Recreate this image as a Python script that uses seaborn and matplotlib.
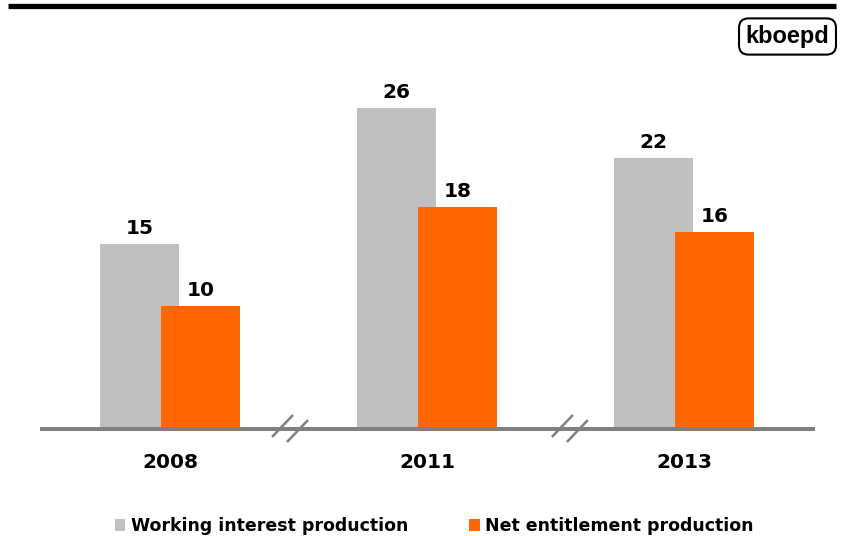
import numpy as np
import pandas as pd
import matplotlib
matplotlib.use("Agg")
import matplotlib.pyplot as plt
from matplotlib.lines import Line2D
import matplotlib.transforms as mtransforms
import seaborn as sns

# Production by year (kboepd)
years = ["2008", "2011", "2013"]
working_interest = [15, 26, 22]
net_entitlement = [10, 18, 16]
series_names = ["Working interest production", "Net entitlement production"]
unit_label = "kboepd"

GREY = "#C0C0C0"
ORANGE = "#FF6600"
AXIS_GREY = "#808080"
INK = "#000000"

sns.set_theme(style="white")
plt.rcParams["font.family"] = ["DejaVu Sans"]
plt.rcParams["text.color"] = INK

W, H = 842, 536
fig = plt.figure(figsize=(W / 100, H / 100), dpi=100)

# axes placed in pixel terms: baseline at y=429 from top, spanning x 40..815
ax_left, ax_right = 40, 815
ax_base, ax_top = 429, 90
ax = fig.add_axes([ax_left / W, (H - ax_base) / H,
                   (ax_right - ax_left) / W, (ax_base - ax_top) / H])

group_px = 257.0          # distance between year groups
bar_w = 79 / group_px     # bar width in group units
shift = 30.5 / group_px   # each series is nudged off the group centre (bars overlap)

idx = np.arange(len(years))
df_wi = pd.DataFrame({"pos": idx - shift, "value": working_interest})
df_ne = pd.DataFrame({"pos": idx + shift, "value": net_entitlement})

sns.barplot(data=df_wi, x="pos", y="value", native_scale=True, width=bar_w,
            color=GREY, saturation=1, linewidth=0, errorbar=None,
            label=series_names[0], ax=ax)
sns.barplot(data=df_ne, x="pos", y="value", native_scale=True, width=bar_w,
            color=ORANGE, saturation=1, linewidth=0, errorbar=None,
            label=series_names[1], ax=ax)

px_per_unit = 12.33
ax.set_xlim((ax_left - 170) / group_px, (ax_right - 170) / group_px)
ax.set_ylim(0, (ax_base - ax_top) / px_per_unit)

# value labels above each bar
for df in (df_wi, df_ne):
    for x, v in zip(df["pos"], df["value"]):
        ax.annotate(f"{v}", (x, v), xytext=(0, 7.2), textcoords="offset points",
                    ha="center", va="baseline", fontsize=14.5, fontweight="bold",
                    color=INK)

# axes styling: only a thick grey baseline
for s in ("left", "right", "top"):
    ax.spines[s].set_visible(False)
ax.spines["bottom"].set_color(AXIS_GREY)
ax.spines["bottom"].set_linewidth(2.9)
ax.spines["bottom"].set_capstyle("butt")
ax.set_yticks([])
ax.set_xticks(idx)
ax.set_xticklabels(years, fontsize=14.5, fontweight="bold", color=INK)
ax.tick_params(axis="x", length=0, pad=28)
for lbl in ax.get_xticklabels():
    lbl.set_va("baseline")
ax.set_xlabel("")
ax.set_ylabel("")
ax.patch.set_alpha(0)

# axis-break marks between the year groups
fig.canvas.draw()
for xb in (0.467, 1.556):
    bx, by = ax.transData.transform((xb, 0))
    for (x0, y0, x1, y1) in ((-18, -8, 3, 14), (-3, -13, 18, 9)):
        fig.add_artist(Line2D([bx + x0, bx + x1], [by + y0, by + y1],
                              transform=mtransforms.IdentityTransform(),
                              color=AXIS_GREY, lw=1.8, solid_capstyle="butt"))

# heavy rule along the top
fig.add_artist(Line2D([8 / W, 836 / W], [1 - 6 / H, 1 - 6 / H],
                      transform=fig.transFigure, color="black", lw=3.8,
                      solid_capstyle="butt"))

# unit badge
fig.text(787.5 / W, 1 - 36.5 / H, unit_label, ha="center", va="center",
         family=["Liberation Sans", "DejaVu Sans"], fontsize=17, fontweight="bold",
         color=INK,
         bbox=dict(boxstyle="round,pad=0.28,rounding_size=0.4", fc="white",
                   ec="black", lw=1.5))

# legend underneath
leg = fig.legend(*ax.get_legend_handles_labels(), loc="center",
                 bbox_to_anchor=(434 / W, 1 - 526 / H), ncol=2, frameon=False,
                 prop={"weight": "bold", "size": 12.5},
                 handlelength=0.62, handleheight=0.62, handletextpad=0.3,
                 columnspacing=3.5, borderaxespad=0)
for t in leg.get_texts():
    t.set_color(INK)
if ax.get_legend() is not None:
    ax.get_legend().remove()

fig.savefig("out.png", dpi=100)
